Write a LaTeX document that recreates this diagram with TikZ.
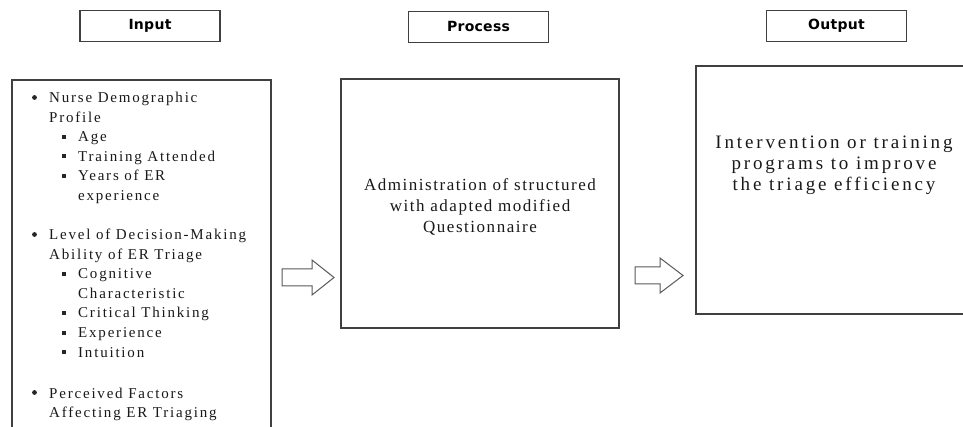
\documentclass[tikz,border=0pt]{standalone}
\usepackage{fontspec}
\setmainfont{Liberation Serif}
\newfontfamily\hdfont{DejaVu Sans}[LetterSpace=2]
\newfontfamily\inpfont{Liberation Serif}[LetterSpace=12]
\newfontfamily\prcfont{Liberation Serif}[LetterSpace=9]
\newfontfamily\outfont{Liberation Serif}[LetterSpace=15]
\begin{document}
\begin{tikzpicture}[x=1pt,y=-1pt,
  frame/.style={draw=black!75, line width=1.3pt},
  hdr/.style={frame, minimum width=140pt, minimum height=31pt, inner sep=0pt, font=\hdfont\bfseries\fontsize{14pt}{16pt}\selectfont},
  inl/.style={anchor=base west, inner sep=0pt, font=\inpfont\fontsize{15pt}{19pt}\selectfont, text=black!90},
  bul/.style={fill=black!85, minimum size=4.8pt, inner sep=0pt, shape=circle},
  subbul/.style={fill=black!85, minimum size=4pt, inner sep=0pt, shape=rectangle},
  blockarrow/.style={draw=black!65, line width=1pt, fill=white, line join=miter}
]
\useasboundingbox (0,0) rectangle (963,427);
\clip (0,0) rectangle (963,427);
\fill[white] (0,0) rectangle (963,427);

% headers
\node[hdr] (hin) at (150,26) {Input};
\node[hdr] (hpr) at (478.5,27) {Process};
\node[hdr] (hout) at (836.5,26) {Output};

% input box (runs off the bottom)
\draw[frame] (12,440) coordinate (inbl) -- (12,80) coordinate (intl) -- (271,80) coordinate (intr) -- (271,440) coordinate (inbr);

% process box
\node[frame, minimum width=278pt, minimum height=249pt, inner sep=0pt] (pbox) at (480,203.5) {};
% output box (runs off the right)
\draw[frame] (975,66) coordinate (otr) -- (696,66) coordinate (otl) -- (696,314) coordinate (obl) -- (975,314) coordinate (obr);

% input list
\node[bul] (b1) at (34.5,97.5) {};
\node[inl] (t1) at (49,103) {Nurse Demographic};
\node[inl] (t2) at (49,122.5) {Profile};
\node[subbul] (s1) at (63.5,137) {};
\node[inl] (t3) at (78,142) {Age};
\node[subbul] (s2) at (63.5,156.5) {};
\node[inl] (t4) at (78,161.5) {Training Attended};
\node[subbul] (s3) at (63.5,176) {};
\node[inl] (t5) at (78,181) {Years of ER};
\node[inl] (t6) at (78,200.5) {experience};

\node[bul] (b2) at (34.5,234.5) {};
\node[inl] (t7) at (49,240) {Level of Decision-Making};
\node[inl] (t8) at (49,259.5) {Ability of ER Triage};
\node[subbul] (s4) at (63.5,274) {};
\node[inl] (t9) at (78,279) {Cognitive};
\node[inl] (t10) at (78,298.5) {Characteristic};
\node[subbul] (s5) at (63.5,313) {};
\node[inl] (t11) at (78,318) {Critical Thinking};
\node[subbul] (s6) at (63.5,332.5) {};
\node[inl] (t12) at (78,337.5) {Experience};
\node[subbul] (s7) at (63.5,352) {};
\node[inl] (t13) at (78,357) {Intuition};

\node[bul] (b3) at (34.5,392.5) {};
\node[inl] (t14) at (49,398) {Perceived Factors};
\node[inl] (t15) at (49,417.5) {Affecting ER Triaging};

% process text
\node[align=center, inner sep=0pt, font=\prcfont\fontsize{17pt}{21pt}\selectfont, text=black!90] (ptxt) at (480,207) {Administration of structured\\with adapted modified\\Questionnaire};

% output text
\node[align=center, inner sep=0pt, font=\outfont\fontsize{19pt}{21pt}\selectfont, text=black!90] (otxt) at (834,165) {Intervention or training\\programs to improve\\the triage efficiency};

% block arrows
\draw[blockarrow] (282,269) -- (312,269) -- (312,260) -- (334,277.5) coordinate (a1tip) -- (312,295) -- (312,286) -- (282,286) -- cycle;
\draw[blockarrow] (635,267) -- (660,267) -- (660,258) -- (683,275.5) coordinate (a2tip) -- (660,293) -- (660,284) -- (635,284) -- cycle;
\end{tikzpicture}
\end{document}
